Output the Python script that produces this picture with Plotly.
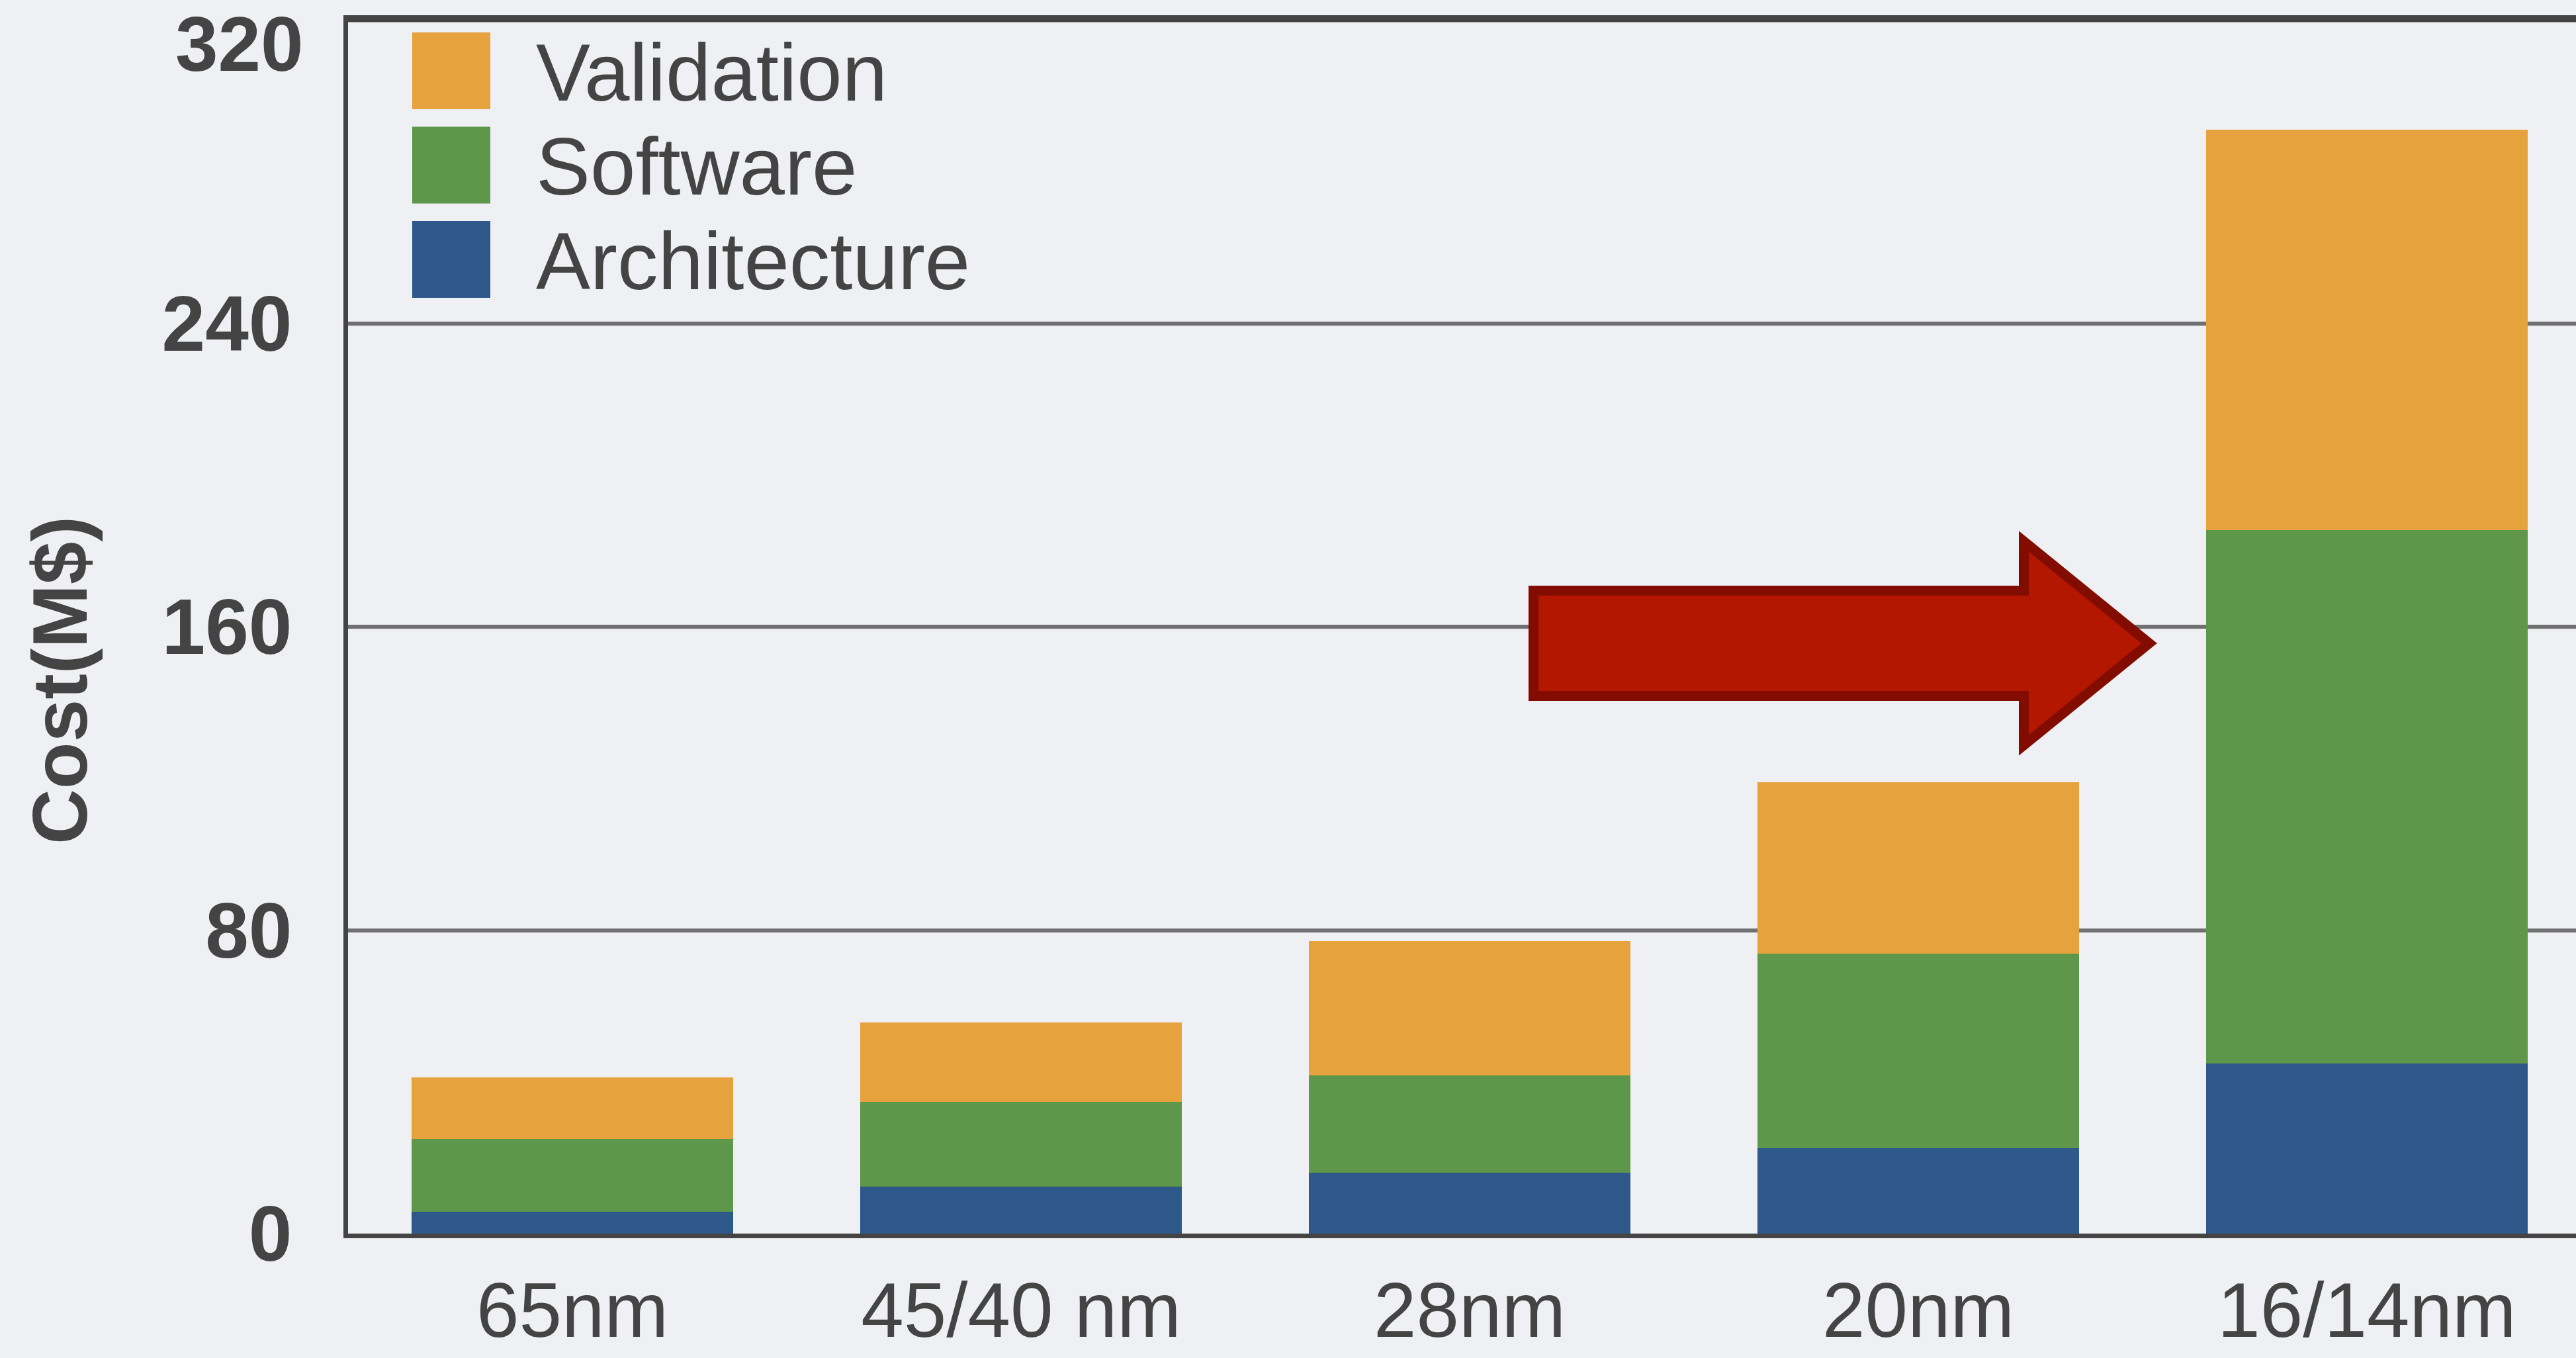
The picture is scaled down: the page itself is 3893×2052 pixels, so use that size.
import plotly.graph_objects as go

# ---- data ----
categories = ["65nm", "45/40 nm", "28nm", "20nm", "16/14nm"]
architecture = [5.8, 12.4, 16.0, 22.5, 44.8]
software = [19.2, 22.3, 25.7, 51.3, 140.7]
validation = [16.2, 21.0, 35.4, 45.2, 105.5]
series_names = ["Validation", "Software", "Architecture"]
y_ticks = [0, 80, 160, 240, 320]
y_title = "Cost(M$)"

# ---- style ----
W, H = 3893, 2052
L, R, T, B = 526, 0, 30, 188
PW, PH = W - L - R, H - T - B
COL_ARCH = "#2E588A"
COL_SW = "#5E964A"
COL_VAL = "#E6A23D"
BG = "#EEF0F3"
TXT = "#444444"
FONT = "Liberation Sans"


def px(x):
    return (x - L) / PW


def py(y):
    return (H - B - y) / PH


fig = go.Figure()
bw = 0.717
for name, vals, col in [("Architecture", architecture, COL_ARCH),
                        ("Software", software, COL_SW),
                        ("Validation", validation, COL_VAL)]:
    fig.add_trace(go.Bar(x=categories, y=vals, name=name, width=bw,
                         marker=dict(color=col, line=dict(width=0)),
                         showlegend=False))

shapes = []
annotations = []

# custom legend (large swatches like the original)
legend_cols = {"Validation": COL_VAL, "Software": COL_SW, "Architecture": COL_ARCH}
for i, name in enumerate(series_names):
    top = 49 + i * 142.5
    bot = top + 116
    shapes.append(dict(type="rect", xref="paper", yref="paper",
                       x0=px(623), x1=px(741), y0=py(bot), y1=py(top),
                       fillcolor=legend_cols[name], line=dict(width=0), layer="above"))
    annotations.append(dict(xref="paper", yref="paper", x=px(808), y=py((top + bot) / 2 + 2),
                            xanchor="left", yanchor="middle", showarrow=False,
                            text=name, font=dict(family=FONT, size=123, color=TXT)))

# red arrow
pts = [(2317.5, 892.5), (3058.5, 892.5), (3058.5, 818), (3248, 972),
       (3058.5, 1126), (3058.5, 1051.5), (2317.5, 1051.5)]
path = "M " + " L ".join(f"{px(x):.5f},{py(y):.5f}" for x, y in pts) + " Z"
shapes.append(dict(type="path", xref="paper", yref="paper", path=path,
                   fillcolor="#B31700", line=dict(color="#830C00", width=15),
                   layer="above"))

# y-axis title
annotations.append(dict(xref="paper", yref="paper", x=px(91), y=py(1028),
                        xanchor="center", yanchor="middle", showarrow=False,
                        textangle=-90, text=y_title,
                        font=dict(family=FONT, size=116, color=TXT, weight="bold")))

# top tick label (sits just below the frame edge in the original)
annotations.append(dict(xref="paper", yref="paper", x=px(460), y=py(1),
                        xanchor="right", yanchor="top", showarrow=False,
                        text=str(y_ticks[-1]), borderpad=0,
                        font=dict(family=FONT, size=116, color=TXT, weight="bold")))

fig.update_layout(
    width=W, height=H, autosize=False,
    margin=dict(l=L, r=R, t=T, b=B, pad=0),
    paper_bgcolor=BG, plot_bgcolor=BG,
    barmode="stack", bargap=0.28,
    shapes=shapes, annotations=annotations,
    showlegend=False,
    font=dict(family=FONT, color=TXT),
)
fig.update_xaxes(
    type="category", range=[-0.5, -0.5 + PW / 678.0],
    showline=True, linecolor=TXT, linewidth=7, mirror=True,
    showgrid=False, ticks="", ticklabelstandoff=10,
    tickfont=dict(family=FONT, size=116, color=TXT),
    automargin=False, fixedrange=True,
)
fig.update_yaxes(
    range=[0, 320], tickmode="array", tickvals=y_ticks[:-1],
    ticktext=[str(v) for v in y_ticks[:-1]],
    showline=True, linecolor=TXT, linewidth=7, mirror=False,
    showgrid=True, gridcolor="#707070", gridwidth=6, zeroline=False,
    ticks="", ticklabelstandoff=54,
    tickfont=dict(family=FONT, size=118, color=TXT, weight="bold"),
    automargin=False, fixedrange=True,
)
# gridline at the top value (coincides with the frame)
fig.add_hline(y=y_ticks[-1], line=dict(color=TXT, width=7), layer="below")

fig.write_html("out.html")
